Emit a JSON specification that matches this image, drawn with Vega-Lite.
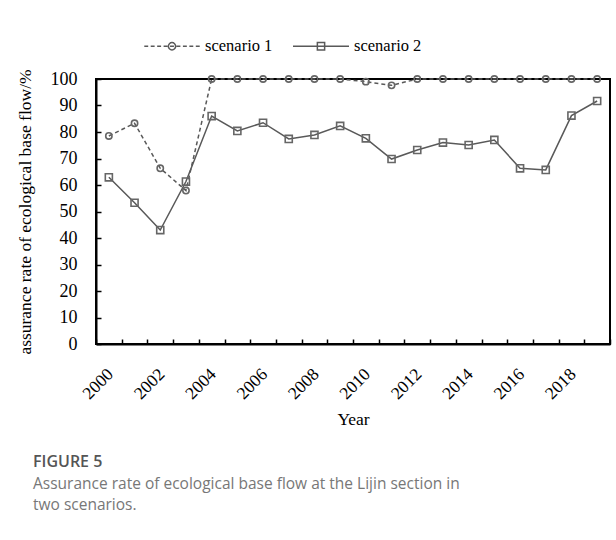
{
  "$schema": "https://vega.github.io/schema/vega-lite/v6.json",
  "width": 514,
  "height": 265,
  "autosize": {"type": "none"},
  "padding": {"left": 96, "top": 79, "right": 6, "bottom": 196},
  "background": "white",
  "config": {
    "view": {"stroke": "black", "strokeWidth": 2},
    "font": "Liberation Serif",
    "axis": {
      "labelFont": "Liberation Serif",
      "labelColor": "black",
      "titleFont": "Liberation Serif",
      "titleColor": "black",
      "titleFontWeight": "normal",
      "titleFontSize": 17.5,
      "domainColor": "black",
      "domainWidth": 2,
      "tickColor": "black",
      "tickWidth": 1.5,
      "grid": false
    },
    "legend": {
      "orient": "none",
      "legendX": 47,
      "legendY": -62,
      "direction": "horizontal",
      "padding": 0,
      "symbolSize": 3136,
      "symbolStrokeWidth": 1.5,
      "symbolStrokeColor": "#595959",
      "symbolFillColor": "transparent",
      "labelFont": "Liberation Serif",
      "labelFontSize": 16.5,
      "labelColor": "black",
      "labelOffset": 4,
      "columnPadding": 17
    }
  },
  "title": {
    "text": "FIGURE 5",
    "subtitle": ["Assurance rate of ecological base flow at the Lijin section in", "two scenarios."],
    "orient": "bottom",
    "anchor": "start",
    "frame": "bounds",
    "font": "Open Sans",
    "fontSize": 16,
    "fontWeight": 600,
    "color": "#555555",
    "subtitleFont": "Open Sans",
    "subtitleFontSize": 15.5,
    "subtitleColor": "#777777",
    "subtitleLineHeight": 21,
    "subtitlePadding": 7,
    "offset": 26,
    "dx": 17
  },
  "data": {
    "values": [
      {"year": 2000, "scenario": "scenario 1", "rate": 78.5},
      {"year": 2001, "scenario": "scenario 1", "rate": 83.3},
      {"year": 2002, "scenario": "scenario 1", "rate": 66.3},
      {"year": 2003, "scenario": "scenario 1", "rate": 57.9},
      {"year": 2004, "scenario": "scenario 1", "rate": 100},
      {"year": 2005, "scenario": "scenario 1", "rate": 100},
      {"year": 2006, "scenario": "scenario 1", "rate": 100},
      {"year": 2007, "scenario": "scenario 1", "rate": 100},
      {"year": 2008, "scenario": "scenario 1", "rate": 100},
      {"year": 2009, "scenario": "scenario 1", "rate": 100},
      {"year": 2010, "scenario": "scenario 1", "rate": 99.0},
      {"year": 2011, "scenario": "scenario 1", "rate": 97.6},
      {"year": 2012, "scenario": "scenario 1", "rate": 100},
      {"year": 2013, "scenario": "scenario 1", "rate": 100},
      {"year": 2014, "scenario": "scenario 1", "rate": 100},
      {"year": 2015, "scenario": "scenario 1", "rate": 100},
      {"year": 2016, "scenario": "scenario 1", "rate": 100},
      {"year": 2017, "scenario": "scenario 1", "rate": 100},
      {"year": 2018, "scenario": "scenario 1", "rate": 100},
      {"year": 2019, "scenario": "scenario 1", "rate": 100},
      {"year": 2000, "scenario": "scenario 2", "rate": 62.9},
      {"year": 2001, "scenario": "scenario 2", "rate": 53.3},
      {"year": 2002, "scenario": "scenario 2", "rate": 43.0},
      {"year": 2003, "scenario": "scenario 2", "rate": 61.3},
      {"year": 2004, "scenario": "scenario 2", "rate": 86.0},
      {"year": 2005, "scenario": "scenario 2", "rate": 80.4},
      {"year": 2006, "scenario": "scenario 2", "rate": 83.5},
      {"year": 2007, "scenario": "scenario 2", "rate": 77.4},
      {"year": 2008, "scenario": "scenario 2", "rate": 78.9},
      {"year": 2009, "scenario": "scenario 2", "rate": 82.3},
      {"year": 2010, "scenario": "scenario 2", "rate": 77.6},
      {"year": 2011, "scenario": "scenario 2", "rate": 69.8},
      {"year": 2012, "scenario": "scenario 2", "rate": 73.2},
      {"year": 2013, "scenario": "scenario 2", "rate": 76.0},
      {"year": 2014, "scenario": "scenario 2", "rate": 75.1},
      {"year": 2015, "scenario": "scenario 2", "rate": 77.0},
      {"year": 2016, "scenario": "scenario 2", "rate": 66.3},
      {"year": 2017, "scenario": "scenario 2", "rate": 65.7},
      {"year": 2018, "scenario": "scenario 2", "rate": 86.2},
      {"year": 2019, "scenario": "scenario 2", "rate": 91.7}
    ]
  },
  "encoding": {
    "x": {
      "field": "year",
      "type": "ordinal",
      "scale": {"type": "band", "paddingInner": 0, "paddingOuter": 0},
      "axis": {
        "title": "Year",
        "titlePadding": 8,
        "labelAngle": -45,
        "labelFontSize": 17.5,
        "labelPadding": 26,
        "labelOffset": -5,
        "labelExpr": "datum.value % 2 === 0 ? datum.label : ''",
        "tickBand": "extent",
        "tickSize": -5
      }
    },
    "y": {
      "field": "rate",
      "type": "quantitative",
      "scale": {"domain": [0, 100], "nice": false},
      "axis": {
        "title": "assurance rate of ecological base flow/%",
        "titlePadding": 16,
        "values": [0, 10, 20, 30, 40, 50, 60, 70, 80, 90, 100],
        "labelFontSize": 18,
        "labelPadding": 24,
        "tickSize": -5
      }
    }
  },
  "layer": [
    {
      "transform": [{"filter": "datum.scenario === 'scenario 2'"}],
      "mark": {"type": "line", "color": "#595959", "strokeWidth": 1.5}
    },
    {
      "transform": [{"filter": "datum.scenario === 'scenario 1'"}],
      "mark": {"type": "line", "color": "#595959", "strokeWidth": 1.5, "strokeDash": [4, 3]}
    },
    {
      "transform": [{"filter": "datum.scenario === 'scenario 1'"}],
      "mark": {"type": "point", "shape": "circle", "filled": false, "color": "#666666", "strokeWidth": 1.6, "size": 40, "opacity": 1}
    },
    {
      "transform": [{"filter": "datum.scenario === 'scenario 2'"}],
      "mark": {"type": "point", "shape": "square", "filled": false, "color": "#666666", "strokeWidth": 1.6, "size": 50, "opacity": 1}
    },
    {
      "transform": [{"filter": "false"}],
      "mark": {"type": "point", "filled": false, "color": "#595959", "strokeWidth": 1.5, "opacity": 1},
      "encoding": {
        "shape": {
          "field": "scenario",
          "type": "nominal",
          "scale": {
            "domain": ["scenario 1", "scenario 2"],
            "range": [
              "M-0.99 0H-0.85M-0.76 0H-0.62M-0.53 0H-0.39M-0.3 0H-0.16M-0.07 0H0.07M0.16 0H0.3M0.39 0H0.53M0.62 0H0.76M0.85 0H0.99M0.13 0A0.13 0.13 0 1 1 -0.13 0A0.13 0.13 0 1 1 0.13 0Z",
              "M-1 0H1M-0.13 -0.13H0.13V0.13H-0.13Z"
            ]
          },
          "legend": {"title": null}
        }
      }
    }
  ]
}
